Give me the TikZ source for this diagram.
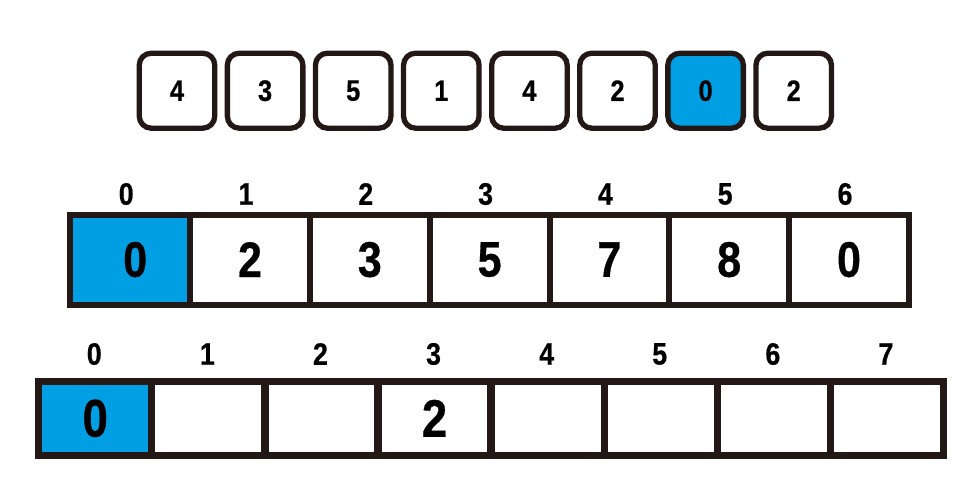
\documentclass[tikz,border=0pt]{standalone}
\usepackage{fontspec}
\setmainfont{Liberation Sans}
\newfontfamily\digitfont[FakeStretch=0.86,FakeBold=0.6]{Liberation Sans Bold}
\definecolor{lineclr}{RGB}{35,24,21}
\definecolor{hiblue}{RGB}{0,159,227}
\begin{document}
\begin{tikzpicture}[x=1pt,y=-1pt,
  card/.style={draw=lineclr, line width=5.3pt, rounded corners=12pt, fill=white,
    minimum width=75.5pt, minimum height=75pt, inner sep=0pt,
    font=\digitfont\fontsize{29.5}{29.5}\selectfont},
  midcell/.style={draw=lineclr, line width=6pt, fill=white,
    minimum width=119.8pt, minimum height=89.8pt, inner sep=0pt,
    font=\digitfont\fontsize{50}{50}\selectfont},
  botcell/.style={draw=lineclr, line width=7.3pt, fill=white,
    minimum width=113.1pt, minimum height=73.8pt, inner sep=0pt,
    font=\digitfont\fontsize{53}{53}\selectfont},
  idx/.style={inner sep=0pt, font=\digitfont\fontsize{31}{31}\selectfont},
  hi/.style={fill=hiblue}]
\useasboundingbox (0,0) rectangle (967,487);
% top row of cards
\foreach \v [count=\i from 0] in {4,3,5,1,4,2,0,2}{
  \pgfmathsetmacro{\cx}{177+88.1*\i}
  \ifnum\i=6
    \node[card,hi] (t\i) at (\cx,90.7) {\v};
  \else
    \node[card] (t\i) at (\cx,90.7) {\v};
  \fi
}
% middle array
\foreach \v [count=\i from 0] in {0,2,3,5,7,8,0}{
  \pgfmathsetmacro{\cx}{70.3+119.8*(\i+0.5)}
  \ifnum\i=0
    \node[midcell,hi] (m\i) at (\cx,259.6) {\hspace*{10pt}\v};
  \else
    \node[midcell] (m\i) at (\cx,259.6) {\v};
  \fi
  \node[idx] (mi\i) at (\cx-4,194) {\i};
}
% bottom array
\foreach \v [count=\i from 0] in {0,{},{},2,{},{},{},{}}{
  \pgfmathsetmacro{\cx}{38.7+113.1*(\i+0.5)}
  \ifnum\i=0
    \node[botcell,hi] (b\i) at (\cx,418.3) {\v};
  \else
    \node[botcell] (b\i) at (\cx,418.3) {\v};
  \fi
  \node[idx] (bi\i) at (\cx-1,354) {\i};
}
\end{tikzpicture}
\end{document}
